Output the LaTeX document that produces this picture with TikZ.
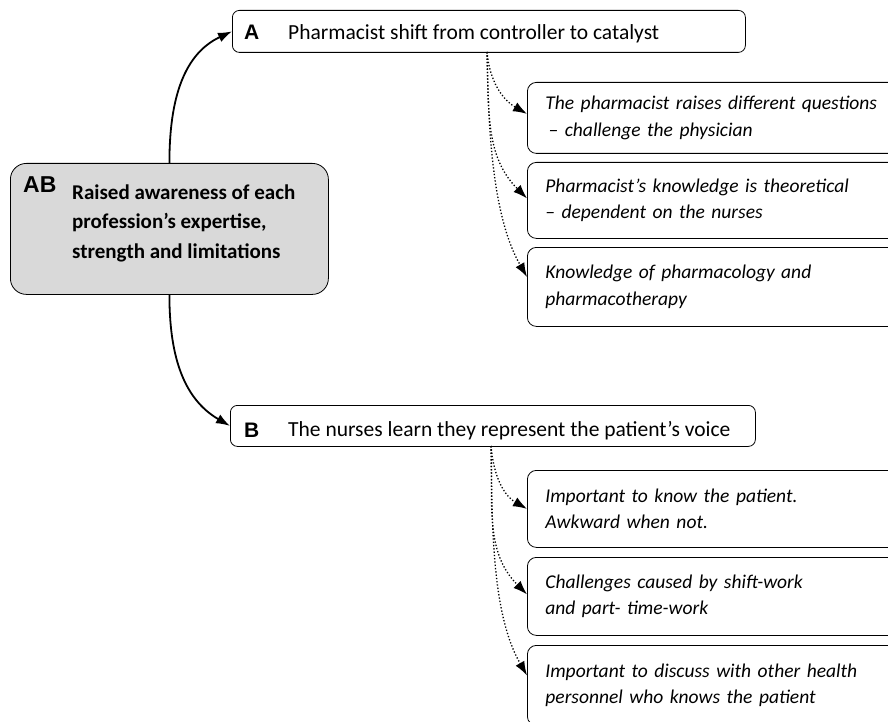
\documentclass[tikz,border=0pt]{standalone}
\usepackage{fontspec}
\setmainfont{Carlito}
\newfontfamily\labfont{Liberation Sans}
\usetikzlibrary{arrows.meta,positioning}

\begin{document}
\begin{tikzpicture}[x=1pt, y=-1pt,
    mainbox/.style={draw, thick, rounded corners=7pt, anchor=north west, inner sep=0pt},
    subbox/.style={draw, thick, rounded corners=9pt, anchor=north west, minimum width=370pt,
      inner xsep=18pt, inner ysep=0pt, text width=334pt, align=left,
      font=\fontsize{19.5}{26.5}\selectfont\itshape},
    headtxt/.style={anchor=base west, inner sep=0pt, font=\fontsize{21.5}{24}\selectfont},
    letter/.style={anchor=base west, inner sep=0pt, font=\labfont\bfseries\fontsize{21}{22}\selectfont},
    arrow/.style={-{Latex[length=14pt,width=10pt]}, line width=1.8pt},
    dotarrow/.style={-{Latex[length=14pt,width=10pt]}, dotted, line width=1.3pt},
  ]
    \clip (0,0) rectangle (888,722);
    \fill[white] (0,0) rectangle (888,722);

    % central theme
    \node[draw, thick, rounded corners=16pt, fill=gray!30, anchor=north west,
      minimum width=318pt, minimum height=131pt, inner sep=0pt] (AB) at (10,163) {};
    \node[letter, font=\labfont\bfseries\fontsize{23}{24}\selectfont] (ABlab) at (23,193) {AB};
    \node[anchor=base west, inner sep=0pt, align=left,
      font=\fontsize{21}{29.5}\selectfont\bfseries] (ABtxt) at (72,258)
      {Raised awareness of each\\profession’s expertise,\\strength and limitations};

    % sub themes
    \node[mainbox, minimum width=513pt, minimum height=42pt] (A) at (232,10) {};
    \node[letter] (Alab) at (244,40) {A};
    \node[headtxt] (Atxt) at (288,40) {Pharmacist shift from controller to catalyst};

    \node[mainbox, minimum width=525pt, minimum height=41pt] (B) at (230,405) {};
    \node[letter] (Blab) at (244,437) {B};
    \node[headtxt] (Btxt) at (288,436) {The nurses learn they represent the patient’s voice};

    \coordinate (forkA) at (487,52);
    \coordinate (forkB) at (491,446);

    % findings under A
    \node[subbox, minimum height=71pt] (a1) at (527,82)
      {The pharmacist raises different questions\\\,– challenge the physician};
    \node[subbox, minimum height=76pt] (a2) at (527,162)
      {Pharmacist’s knowledge is theoretical\\– dependent on the nurses};
    \node[subbox, minimum height=79pt] (a3) at (527,247)
      {Knowledge of pharmacology and\\pharmacotherapy};

    % findings under B
    \node[subbox, minimum height=77pt] (b1) at (527,470)
      {Important to know the patient.\\Awkward when not.};
    \node[subbox, minimum height=78pt] (b2) at (527,557)
      {Challenges caused by shift-work\\and part- time-work};
    \node[subbox, minimum height=80pt] (b3) at (527,645)
      {Important to discuss with other health\\personnel who knows the patient};

    \draw[arrow] (AB.north) to[out=90,in=205] (A.west);
    \draw[arrow] (AB.south) to[out=-90,in=150] (B.west);

    \draw[dotarrow] (forkA) to[out=-85,in=150] ([yshift=4pt]a1.west);
    \draw[dotarrow] (forkA) to[out=-88,in=135] ([yshift=2pt]a2.west);
    \draw[dotarrow] (forkA) to[out=-89,in=120,looseness=0.8] ([yshift=10pt]a3.west);
    \draw[dotarrow] (forkB) to[out=-85,in=150] (b1.west);
    \draw[dotarrow] (forkB) to[out=-88,in=135] ([yshift=2pt]b2.west);
    \draw[dotarrow] (forkB) to[out=-89,in=120,looseness=0.8] ([yshift=10pt]b3.west);
\end{tikzpicture}
\end{document}
